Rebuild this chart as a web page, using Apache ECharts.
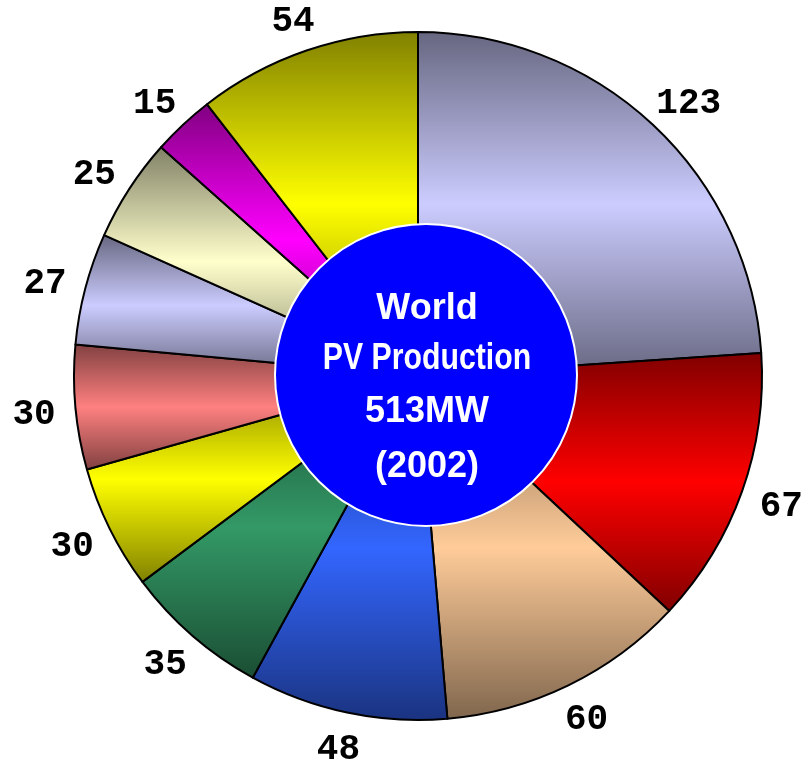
<!DOCTYPE html>
<html>
<head>
<meta charset="utf-8">
<script src="https://cdn.jsdelivr.net/npm/echarts@6/dist/echarts.min.js"></script>
<style>
  html, body { margin: 0; padding: 0; background: #ffffff; }
  #chart { width: 810px; height: 762px; }
</style>
</head>
<body>
<div id="chart"></div>
<script>
// Production shares, clockwise from 12 o'clock (MW)
var sliceValues = [123, 67, 60, 48, 35, 30, 30, 27, 25, 15, 54];
// Base fill of each slice (shaded darker toward top and bottom)
var sliceColors = ['#CCCCFF', '#FF0000', '#FFCC99', '#3366FF', '#339966',
                   '#FFFF00', '#FF8080', '#CCCCFF', '#FFFFCC', '#FF00FF', '#FFFF00'];
// Text inside the central disc
var centerLines = ['World', 'PV Production', '513MW', '(2002)'];

var pieCX = 418, pieCY = 376, pieR = 344;
var labelGap = 22, labelSize = 36;

function shade(hex, f) {
  var n = parseInt(hex.slice(1), 16);
  var r = Math.round(((n >> 16) & 255) * f);
  var g = Math.round(((n >> 8) & 255) * f);
  var b = Math.round((n & 255) * f);
  return 'rgb(' + r + ',' + g + ',' + b + ')';
}

function cylinder(hex) {
  return {
    type: 'linear', x: 0, y: 0, x2: 0, y2: 1,
    colorStops: [
      { offset: 0, color: shade(hex, 0.5) },
      { offset: 0.5, color: hex },
      { offset: 1, color: shade(hex, 0.5) }
    ]
  };
}

var pieData = sliceValues.map(function (v, i) {
  return { value: v, itemStyle: { color: cylinder(sliceColors[i]) } };
});

// central disc and its caption
var discX = 426, discY = 375, discR = 151;
var lineY = [309, 359, 412, 467];
var lineScale = [1, 0.84, 1, 1];
var graphics = [{
  type: 'circle',
  shape: { cx: discX, cy: discY, r: discR },
  style: { fill: '#0000FF', stroke: '#FFFFFF', lineWidth: 2 },
  z: 10
}];
centerLines.forEach(function (t, i) {
  graphics.push({
    type: 'text',
    x: discX + 1, y: lineY[i],
    scaleX: lineScale[i],
    style: {
      text: t, fill: '#FFFFFF',
      font: 'bold 36px "Liberation Sans", Arial, sans-serif',
      textAlign: 'center', textVerticalAlign: 'middle'
    },
    z: 11
  });
});

// Put each value label just clear of the rim, its box pushed outward
// along the slice's mid direction (taken from the default anchor).
function placeLabel(p) {
  var rect = p.labelRect;
  var ax = p.align === 'right' ? rect.x + rect.width : rect.x;
  var ay = rect.y + rect.height / 2;
  var dx = ax - pieCX, dy = ay - pieCY;
  var len = Math.sqrt(dx * dx + dy * dy) || 1;
  var ux = dx / len, uy = dy / len;
  var halfW = rect.width / 2 - 2;
  var halfH = labelSize / 3;
  return {
    x: pieCX + ux * (pieR + labelGap) + ux * halfW,
    // digits sit a little above the em-box middle, so nudge down
    y: pieCY + uy * (pieR + labelGap) + uy * halfH + 4,
    align: 'center',
    verticalAlign: 'middle'
  };
}

var chart = echarts.init(document.getElementById('chart'), null, { renderer: 'canvas' });
chart.setOption({
  backgroundColor: '#ffffff',
  animation: false,
  series: [{
    type: 'pie',
    center: [pieCX, pieCY],
    radius: [0, pieR],
    startAngle: 90,
    clockwise: true,
    avoidLabelOverlap: false,
    data: pieData,
    itemStyle: { borderColor: '#000000', borderWidth: 2 },
    label: {
      show: true,
      position: 'outside',
      formatter: '{c}',
      color: '#000000',
      fontFamily: '"Liberation Mono", "Courier New", monospace',
      fontWeight: 'bold',
      fontSize: labelSize,
      distanceToLabelLine: 0
    },
    labelLine: { show: false, length: 20, length2: 0 },
    labelLayout: placeLabel,
    emphasis: { disabled: true }
  }],
  graphic: graphics
});
</script>
</body>
</html>
